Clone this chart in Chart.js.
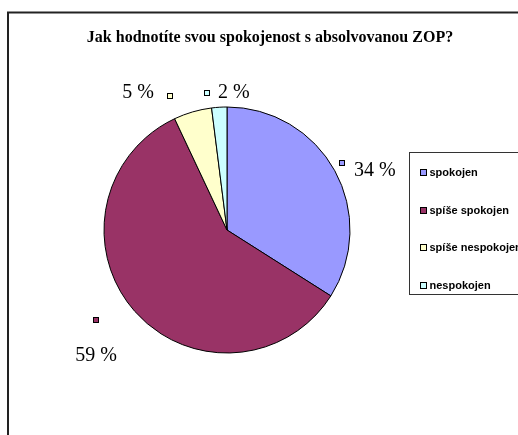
<!DOCTYPE html>
<html>
<head>
<meta charset="utf-8">
<script src="https://cdn.jsdelivr.net/npm/chart.js@4"></script>
<style>
html,body{margin:0;padding:0;background:#fff;overflow:hidden;}
#c{display:block;}
</style>
</head>
<body>
<canvas id="c" width="518" height="435"></canvas>
<script>
const titleText = "Jak hodnotíte svou spokojenost s absolvovanou ZOP?";
const categories = ["spokojen", "spíše spokojen", "spíše nespokojen", "nespokojen"];
const values = [34, 59, 5, 2];
const sliceColors = ["#9999FF", "#993366", "#FFFFCC", "#CCFFFF"];

// label placement style: marker at (mid angle + dAngle, dist * radius); text offset from marker
const labelStyle = [
  {dAngle: -1.4, dist: 1.082, tx: 12, ty: 8, align: "left"},
  {dAngle: 6.8, dist: 1.294, tx: 0, ty: 35.5, align: "center"},
  {dAngle: -6.7, dist: 1.182, tx: -16.5, ty: -3, align: "right"},
  {dAngle: -4.5, dist: 1.129, tx: 10.5, ty: 0.5, align: "left"}
];

const decor = {
  id: "decor",
  beforeDraw(chart) {
    const ctx = chart.ctx;
    ctx.save();
    ctx.fillStyle = "#fff";
    ctx.fillRect(0, 0, chart.width, chart.height);
    // outer frame
    ctx.strokeStyle = "#222";
    ctx.lineWidth = 2;
    ctx.strokeRect(8, 12.5, 700, 700);
    ctx.restore();
  },
  afterDraw(chart) {
    const ctx = chart.ctx;
    const meta = chart.getDatasetMeta(0);
    ctx.save();
    // title
    ctx.fillStyle = "#000";
    ctx.font = "bold 16px 'Liberation Serif', 'Times New Roman', serif";
    ctx.textAlign = "center";
    ctx.textBaseline = "middle";
    ctx.fillText(titleText, 270, 38);

    // data labels
    const total = values.reduce((a, b) => a + b, 0);
    meta.data.forEach((arc, i) => {
      const p = arc.getProps(["x", "y", "startAngle", "endAngle", "outerRadius"], true);
      const mid = (p.startAngle + p.endAngle) / 2 + labelStyle[i].dAngle * Math.PI / 180;
      const d = p.outerRadius * labelStyle[i].dist;
      const mx = p.x + Math.cos(mid) * d;
      const my = p.y + Math.sin(mid) * d;
      ctx.fillStyle = sliceColors[i];
      ctx.fillRect(Math.round(mx) - 3, Math.round(my) - 3, 6, 6);
      ctx.strokeStyle = "#000";
      ctx.lineWidth = 1;
      ctx.strokeRect(Math.round(mx) - 2.5, Math.round(my) - 2.5, 5, 5);
      ctx.fillStyle = "#000";
      ctx.font = "20px 'Liberation Serif', 'Times New Roman', serif";
      ctx.textAlign = labelStyle[i].align;
      ctx.textBaseline = "middle";
      const pct = Math.round(values[i] / total * 100);
      ctx.fillText(pct + " %", mx + labelStyle[i].tx, my + labelStyle[i].ty);
    });

    // legend box
    ctx.strokeStyle = "#333";
    ctx.lineWidth = 1;
    ctx.strokeRect(409.5, 152.5, 200, 142);
    ctx.font = "bold 11px 'Liberation Sans', Arial, sans-serif";
    ctx.textAlign = "left";
    ctx.textBaseline = "middle";
    categories.forEach((c, i) => {
      const y = Math.round(172 + i * 37.5);
      ctx.fillStyle = sliceColors[i];
      ctx.fillRect(420, y - 3, 7, 7);
      ctx.strokeStyle = "#000";
      ctx.strokeRect(420.5, y - 2.5, 6, 6);
      ctx.fillStyle = "#000";
      ctx.fillText(c, 429.5, y + 1);
    });
    ctx.restore();
  }
};

new Chart(document.getElementById("c"), {
  type: "pie",
  data: {
    labels: categories,
    datasets: [{
      data: values,
      backgroundColor: sliceColors,
      borderColor: "#000",
      borderWidth: 1
    }]
  },
  options: {
    responsive: false,
    animation: false,
    radius: 123,
    layout: {padding: {left: 60, right: 124, top: 60, bottom: 35}},
    plugins: {
      legend: {display: false},
      title: {display: false},
      tooltip: {enabled: false}
    }
  },
  plugins: [decor]
});
</script>
</body>
</html>
